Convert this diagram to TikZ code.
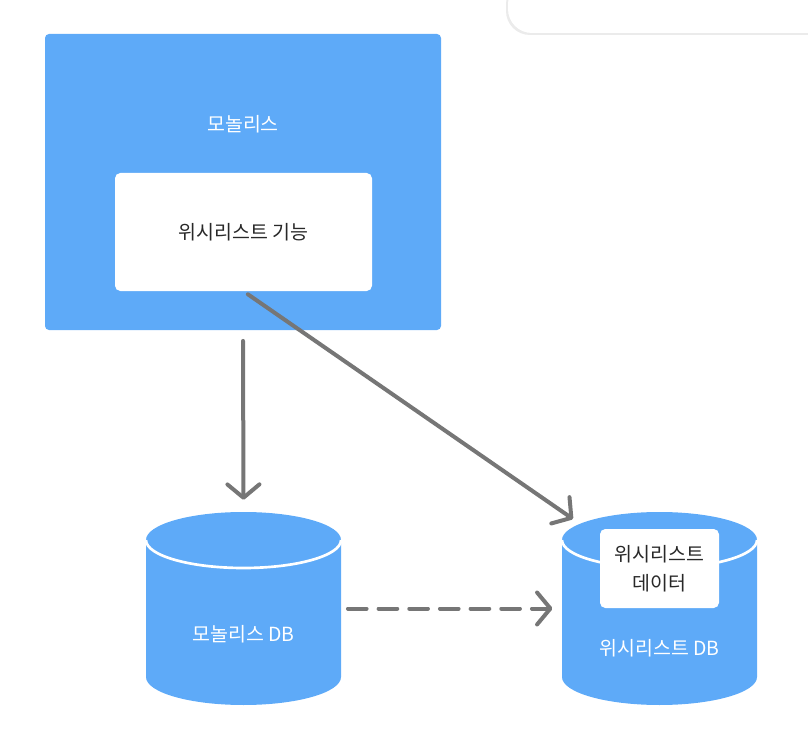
\documentclass[tikz,border=0pt]{standalone}
\usepackage{fontspec}
\setmainfont{Noto Sans CJK KR}
\usetikzlibrary{arrows.meta,positioning}
\definecolor{dgblue}{RGB}{94,170,248}
\definecolor{dgarrow}{RGB}{118,118,118}
\definecolor{dgtext}{RGB}{40,40,40}

\begin{document}
\begin{tikzpicture}[x=0.75pt,y=0.75pt,
  bluebox/.style={fill=dgblue, rounded corners=3pt, inner sep=0pt},
  whitebox/.style={fill=white, rounded corners=4pt, inner sep=0pt, align=center, text=dgtext, font=\fontsize{14.6}{22}\selectfont},
  whitelabel/.style={text=white, font=\fontsize{14.6}{18}\selectfont, inner sep=0pt},
  dbspace/.style={minimum width={195*0.75pt}, minimum height={193*0.75pt}, inner sep=0pt},
  conn/.style={draw=dgarrow, line width=3pt, line cap=round, -{Straight Barb[length=10pt,width=24pt,round]}}]
  \useasboundingbox (0,0) rectangle (808,-742);
  % Window corner at the top
  \fill[black!8, rounded corners=18pt] (506,20) rectangle (830,-35);
  \fill[white, rounded corners=18pt] (508,20) rectangle (830,-33);
  % Monolith
  \node[bluebox, minimum width={396*0.75pt}, minimum height={296*0.75pt}] (mono) at (243,-182) {};
  \node[whitelabel] (monolabel) at (243,-124) {모놀리스};
  \node[whitebox, minimum width={257*0.75pt}, minimum height={118*0.75pt}] (wishfn) at (243.5,-232) {위시리스트 기능};
  % Databases
  \foreach \cx in {243.5,659.5} {
    \fill[dgblue] (\cx-97.5,-540) -- (\cx-97.5,-677)
      arc[start angle=180, end angle=360, x radius=97.5, y radius=28]
      -- (\cx+97.5,-540)
      arc[start angle=0, end angle=180, x radius=97.5, y radius=28] -- cycle;
    \draw[white, line width=2pt] (\cx-97.5,-540)
      arc[start angle=180, end angle=360, x radius=97.5, y radius=28];
  }
  \node[dbspace] (monodb) at (243.5,-608.5) {};
  \node[dbspace] (wishdb) at (659.5,-608.5) {};
  \node[whitelabel] (monodblabel) at (243.5,-634) {모놀리스 DB};
  \node[whitelabel] (wishdblabel) at (659.5,-648) {위시리스트 DB};
  \node[whitebox, minimum width={119*0.75pt}, minimum height={79*0.75pt}] (wishdata) at (659.5,-568.5) {위시리스트\\데이터};
  % Connectors
  \coordinate (wishtip) at (573,-519);
  \draw[conn, shorten <=8pt, shorten >=9pt] (mono.south) -- (monodb.north);
  \draw[conn, shorten <=4pt] (wishfn.south) -- (wishtip);
  \draw[conn, dash pattern=on 14pt off 9pt, shorten <=5pt, shorten >=7pt] (monodb.east) -- (wishdb.west);
\end{tikzpicture}
\end{document}
